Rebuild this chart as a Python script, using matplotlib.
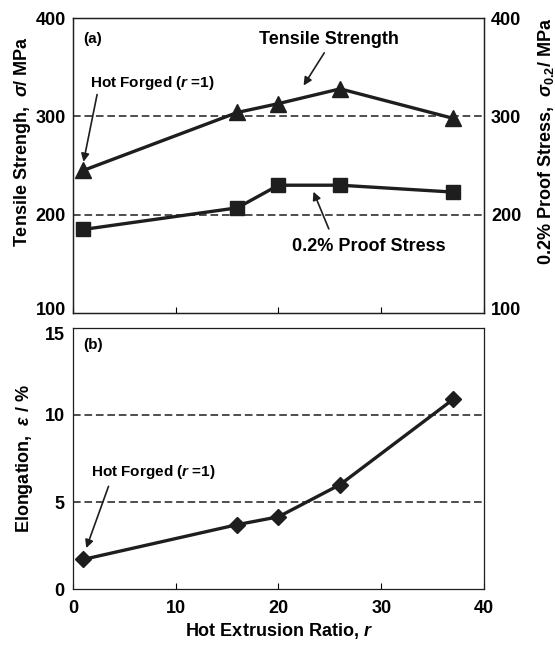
import matplotlib
matplotlib.use("Agg")
import matplotlib.pyplot as plt
from matplotlib.transforms import ScaledTranslation

plt.rcParams.update({
    "font.family": ["Liberation Sans", "DejaVu Sans"],
    "font.weight": "bold",
    "axes.labelweight": "bold",
    "mathtext.fontset": "custom",
    "mathtext.rm": "Liberation Sans:bold",
    "mathtext.it": "Liberation Sans:italic:bold",
    "mathtext.bf": "Liberation Sans:bold",
})

# data
ratio = [1, 16, 20, 26, 37]
tensile = [245, 304, 313, 328, 298]
proof = [185, 207, 230, 230, 223]
elong = [1.7, 3.7, 4.15, 6.0, 10.9]

INK = "#1e1e1e"

fig = plt.figure(figsize=(5.55, 6.45), dpi=100)
axa = fig.add_axes([0.1315, 0.5147, 0.7405, 0.4573])
axb = fig.add_axes([0.1315, 0.0868, 0.7405, 0.4047])

# ---- (a) strength ------------------------------------------------------
axa.plot(ratio, tensile, "-^", color=INK, lw=2.4, ms=11, zorder=3)
axa.plot(ratio, proof, "-s", color=INK, lw=2.4, ms=10, zorder=3)
for yv in (200, 300):
    axa.axhline(yv, color=INK, lw=1.1, ls=(0, (5, 2.5)), zorder=1)
axa.set_xlim(0, 40)
axa.set_ylim(100, 400)
axa.set_yticks([100, 200, 300, 400])
axa.set_xticks([0, 10, 20, 30, 40])
axa.tick_params(axis="x", direction="in", length=4, labelbottom=False)
axa.tick_params(axis="y", length=0, labelsize=13, pad=5)
axa.set_ylabel(r"Tensile Strengh,  $\sigma$/ MPa", fontsize=13, labelpad=2, y=0.58)

axr = axa.twinx()
axr.set_ylim(100, 400)
axr.set_yticks([100, 200, 300, 400])
axr.tick_params(axis="y", length=0, labelsize=13, pad=5)
axr.set_ylabel(r"0.2% Proof Stress,  $\sigma_{0.2}$/ MPa", fontsize=13, labelpad=11, y=0.58)

axa.text(1, 379, "(a)", fontsize=11, ha="left", va="center")
axa.text(24.9, 378, "Tensile Strength", fontsize=13, ha="center", va="center")
axa.annotate("", xy=(22.3, 329), xytext=(24.6, 367),
             arrowprops=dict(arrowstyle="-|>", color=INK, lw=1.2, mutation_scale=12))
axa.text(1.7, 334, "Hot Forged ($r$ =1)", fontsize=11, ha="left", va="center")
axa.annotate("", xy=(0.97, 251), xytext=(2.4, 325),
             arrowprops=dict(arrowstyle="-|>", color=INK, lw=1.2, mutation_scale=12))
axa.text(28.8, 168, "0.2% Proof Stress", fontsize=13, ha="center", va="center")
axa.annotate("", xy=(23.3, 226), xytext=(25.0, 183),
             arrowprops=dict(arrowstyle="-|>", color=INK, lw=1.2, mutation_scale=12))

# ---- (b) elongation ----------------------------------------------------
axb.plot(ratio, elong, "-D", color=INK, lw=2.4, ms=8, zorder=3)
for yv in (5, 10):
    axb.axhline(yv, color=INK, lw=1.1, ls=(0, (5, 2.5)), zorder=1)
axb.set_xlim(0, 40)
axb.set_ylim(0, 15)
axb.set_yticks([0, 5, 10, 15])
axb.set_xticks([0, 10, 20, 30, 40])
axb.tick_params(axis="x", direction="in", length=4, labelsize=13, pad=8)
axb.tick_params(axis="y", length=0, labelsize=13, pad=6)
axb.set_ylabel(r"Elongation,  $\varepsilon$ / %", fontsize=13, labelpad=7)
axb.set_xlabel(r"Hot Extrusion Ratio, $r$", fontsize=13, labelpad=3)

axb.text(1.0, 14.0, "(b)", fontsize=11, ha="left", va="center")
axb.text(1.8, 6.7, "Hot Forged ($r$ =1)", fontsize=11, ha="left", va="center")
axb.annotate("", xy=(1.2, 2.2), xytext=(3.55, 6.05),
             arrowprops=dict(arrowstyle="-|>", color=INK, lw=1.2, mutation_scale=12))

for ax in (axa, axb, axr):
    for sp in ax.spines.values():
        sp.set_linewidth(0.9)
        sp.set_color(INK)

# nudge the touching "100" / "15" tick labels apart, as in the original
fig.canvas.draw()
up = ScaledTranslation(0, 3 / 72, fig.dpi_scale_trans)
down = ScaledTranslation(0, -4 / 72, fig.dpi_scale_trans)
for ax in (axa, axr):
    for lab in ax.get_yticklabels():
        if lab.get_text() == "100":
            lab.set_transform(lab.get_transform() + up)
for lab in axb.get_yticklabels():
    if lab.get_text() == "15":
        lab.set_transform(lab.get_transform() + down)

fig.savefig("out.png", dpi=100)
